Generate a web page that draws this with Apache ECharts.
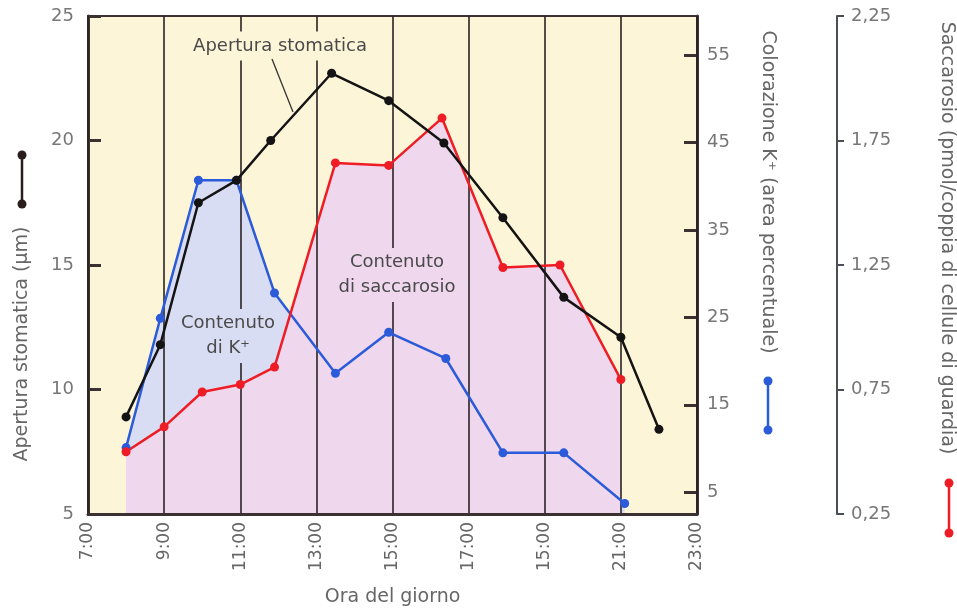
<!DOCTYPE html>
<html>
<head>
<meta charset="utf-8">
<script src="https://cdn.jsdelivr.net/npm/echarts@6/dist/echarts.min.js"></script>
<style>
  html, body { margin: 0; padding: 0; background: #fff; }
  #chart { width: 957px; height: 613px; }
</style>
</head>
<body>
<div id="chart"></div>
<script>
// x ticks (hours) and their labels as printed
const xTickLabels = ['7:00', '9:00', '11:00', '13:00', '15:00', '17:00', '15:00', '21:00', '23:00']
const kTicks = [5, 15, 25, 35, 45, 55]

// apertura stomatica (µm), left axis
const hoursApertura = [8.0, 8.9, 9.9, 10.9, 11.8, 13.4, 14.9, 16.35, 17.9, 19.5, 21.0, 22.0]
const apertura = [8.9, 11.8, 17.5, 18.4, 20.0, 22.7, 21.6, 19.9, 16.9, 13.7, 12.1, 8.4]

// colorazione K+ (area percentuale)
const hoursK = [8.0, 8.9, 9.9, 10.9, 11.9, 13.5, 14.9, 16.4, 17.9, 19.5, 21.1]
const potassio = [10.1, 24.9, 40.7, 40.7, 27.8, 18.6, 23.3, 20.3, 9.5, 9.5, 3.7]

// saccarosio (pmol/coppia di cellule di guardia)
const hoursS = [8.0, 9.0, 10.0, 11.0, 11.9, 13.5, 14.9, 16.3, 17.9, 19.4, 21.0]
const saccarosio = [0.50, 0.60, 0.74, 0.77, 0.84, 1.66, 1.65, 1.84, 1.24, 1.25, 0.79]

const pair = (xs, ys) => xs.map((x, i) => [x, ys[i]])

const FONT = '"DejaVu Sans", "Open Sans", sans-serif'
const BORDER = '#3b3131'
const YELLOW = '#fdf5d8'
const BLUE_FILL = '#d9ddf3'
const PINK_FILL = '#efd7ee'

const chart = echarts.init(document.getElementById('chart'))

function legendMark(x, y1, y2, color) {
  return [
    { type: 'line', shape: { x1: x, y1: y1, x2: x, y2: y2 }, style: { stroke: color, lineWidth: 2.5 } },
    { type: 'circle', shape: { cx: x, cy: y1, r: 4.5 }, style: { fill: color } },
    { type: 'circle', shape: { cx: x, cy: y2, r: 4.5 }, style: { fill: color } }
  ]
}

function rotText(x, y, text, rot) {
  return {
    type: 'text', x: x, y: y, rotation: rot,
    style: { text: text, fill: '#666', font: '19px ' + FONT, align: 'center', verticalAlign: 'middle' }
  }
}

// annotation text; background hides the grid lines behind it
function note(x, y, text, bg) {
  return {
    type: 'text', x: x, y: y, z: 2.5,
    style: {
      text: text, fill: '#4a4a4a', font: '18px ' + FONT, align: 'center', verticalAlign: 'middle',
      lineHeight: 25, backgroundColor: bg, padding: [2, 3]
    }
  }
}

chart.setOption({
  animation: false,
  textStyle: { fontFamily: FONT },
  grid: {
    left: 88, right: 260, top: 16, bottom: 99,
    show: true, backgroundColor: YELLOW, borderColor: BORDER, borderWidth: 2
  },
  xAxis: {
    type: 'value', min: 7, max: 23, interval: 2, z: 2,
    name: 'Ora del giorno', nameLocation: 'middle', nameGap: 74,
    nameTextStyle: { color: '#666', fontSize: 19 },
    axisLine: { lineStyle: { color: BORDER, width: 3 } },
    axisTick: { show: false },
    axisLabel: {
      rotate: 90, margin: 8, color: '#666', fontSize: 17,
      formatter: v => xTickLabels[Math.round((v - 7) / 2)]
    },
    splitLine: { show: true, lineStyle: { color: '#2a2424', width: 1.6 } }
  },
  yAxis: [
    {
      type: 'value', position: 'left', min: 5, max: 25, interval: 5,
      axisLine: { show: true, lineStyle: { color: BORDER, width: 3 } },
      axisTick: { show: true, inside: true, length: 13, lineStyle: { color: BORDER, width: 3 } },
      axisLabel: { color: '#777', fontSize: 18, margin: 14 },
      splitLine: { show: false }
    },
    {
      type: 'value', position: 'right', min: 2.5, max: 59.5,
      axisLine: { show: true, lineStyle: { color: BORDER, width: 3 } },
      axisTick: { show: true, inside: true, length: 13, customValues: kTicks, lineStyle: { color: BORDER, width: 3 } },
      axisLabel: { color: '#777', fontSize: 18, margin: 10, customValues: kTicks },
      splitLine: { show: false }
    },
    {
      type: 'value', position: 'right', offset: 140, min: 0.25, max: 2.25, interval: 0.5,
      axisLine: { show: true, lineStyle: { color: '#4a4f55', width: 2 } },
      axisTick: { show: true, inside: false, length: 7, lineStyle: { color: '#4a4f55', width: 2 } },
      axisLabel: { color: '#777', fontSize: 18, margin: 14, formatter: v => v.toFixed(2).replace('.', ',') },
      splitLine: { show: false }
    }
  ],
  series: [
    {
      type: 'line', yAxisIndex: 1, data: pair(hoursK, potassio), z: 1,
      symbol: 'none', lineStyle: { width: 0 },
      areaStyle: { color: BLUE_FILL, opacity: 1, origin: 'start' }
    },
    {
      type: 'line', yAxisIndex: 2, data: pair(hoursS, saccarosio), z: 1,
      symbol: 'none', lineStyle: { width: 0 },
      areaStyle: { color: PINK_FILL, opacity: 1, origin: 'start' }
    },
    {
      type: 'line', yAxisIndex: 1, data: pair(hoursK, potassio), z: 3,
      symbol: 'circle', symbolSize: 9, color: '#2b5bd8',
      lineStyle: { color: '#2b5bd8', width: 2.5 }
    },
    {
      type: 'line', yAxisIndex: 2, data: pair(hoursS, saccarosio), z: 3,
      symbol: 'circle', symbolSize: 9, color: '#ee1d25',
      lineStyle: { color: '#ee1d25', width: 2.5 }
    },
    {
      type: 'line', yAxisIndex: 0, data: pair(hoursApertura, apertura), z: 4,
      symbol: 'circle', symbolSize: 9, color: '#141414',
      lineStyle: { color: '#141414', width: 2.5 }
    }
  ],
  graphic: [
    note(280, 46, 'Apertura stomatica', YELLOW),
    { type: 'line', z: 50, shape: { x1: 272, y1: 59, x2: 293, y2: 112 }, style: { stroke: '#333', lineWidth: 1.3 } },
    note(228, 336, 'Contenuto\ndi K⁺', BLUE_FILL),
    note(397, 275, 'Contenuto\ndi saccarosio', PINK_FILL),
    rotText(22, 344, 'Apertura stomatica (µm)', Math.PI / 2),
    rotText(768, 192, 'Colorazione K⁺ (area percentuale)', -Math.PI / 2),
    rotText(947, 238, 'Saccarosio (pmol/coppia di cellule di guardia)', -Math.PI / 2)
  ]
    .concat(legendMark(22, 155, 204, '#2a1d1d'))
    .concat(legendMark(768, 381, 430, '#2b5bd8'))
    .concat(legendMark(949, 483, 533, '#ee1d25'))
})
</script>
</body>
</html>
